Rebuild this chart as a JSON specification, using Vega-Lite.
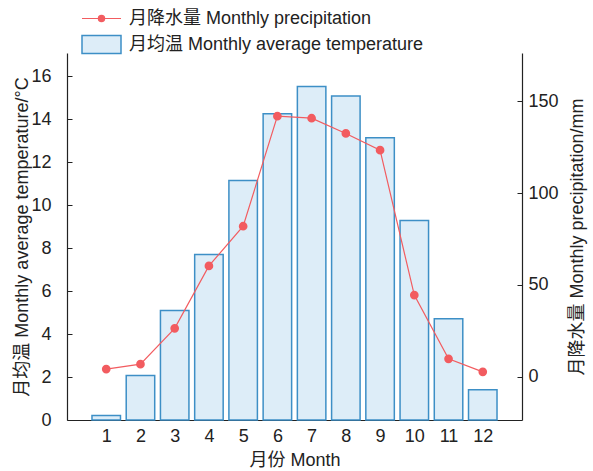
{
  "$schema": "https://vega.github.io/schema/vega-lite/v6.json",
  "autosize": {"type": "none"},
  "padding": {"left": 67, "top": 53, "right": 71, "bottom": 51},
  "width": 455,
  "height": 367,
  "background": "white",
  "config": {
    "view": {"stroke": null},
    "font": "Liberation Sans, Noto Sans CJK SC",
    "axis": {
      "labelFont": "Liberation Sans, Noto Sans CJK SC",
      "titleFont": "Liberation Sans, Noto Sans CJK SC",
      "labelFontSize": 18,
      "titleFontSize": 18,
      "labelColor": "#222222",
      "titleColor": "#222222",
      "titleFontWeight": "normal",
      "domainColor": "#222222",
      "domainWidth": 1.2,
      "tickColor": "#222222",
      "tickWidth": 1,
      "tickSize": -5,
      "grid": false
    },
    "legend": {
      "labelFont": "Liberation Sans, Noto Sans CJK SC",
      "labelFontSize": 18,
      "labelColor": "#222222",
      "labelLimit": 600
    }
  },
  "data": {
    "values": [
      {"month": 1, "temp": 0.21, "precip": 4.2},
      {"month": 2, "temp": 2.07, "precip": 6.9},
      {"month": 3, "temp": 5.1, "precip": 26.4},
      {"month": 4, "temp": 7.7, "precip": 60.4},
      {"month": 5, "temp": 11.15, "precip": 82.0},
      {"month": 6, "temp": 14.25, "precip": 141.9},
      {"month": 7, "temp": 15.52, "precip": 140.8},
      {"month": 8, "temp": 15.08, "precip": 132.5},
      {"month": 9, "temp": 13.13, "precip": 123.4},
      {"month": 10, "temp": 9.29, "precip": 44.5},
      {"month": 11, "temp": 4.71, "precip": 9.8},
      {"month": 12, "temp": 1.41, "precip": 2.7}
    ]
  },
  "encoding": {
    "x": {
      "field": "month",
      "type": "quantitative",
      "scale": {"domain": [0, 13], "nice": false, "zero": false},
      "axis": {
        "values": [1, 2, 3, 4, 5, 6, 7, 8, 9, 10, 11, 12],
        "title": "月份 Month",
        "labelPadding": 12,
        "titlePadding": 6
      }
    }
  },
  "layer": [
    {
      "mark": {"type": "bar", "width": 28.5, "stroke": "#3d8fc6", "strokeWidth": 1.5},
      "encoding": {
        "y": {
          "field": "temp",
          "type": "quantitative",
          "scale": {"domain": [0, 17.08], "nice": false, "zero": true},
          "axis": {
            "orient": "left",
            "values": [0, 2, 4, 6, 8, 10, 12, 14, 16],
            "title": "月均温 Monthly average temperature/°C",
            "labelPadding": 21,
            "titlePadding": -1
          }
        },
        "fill": {
          "datum": "月均温 Monthly average temperature",
          "scale": {"range": ["#ddedf8"]},
          "legend": {
            "title": null,
            "orient": "none",
            "legendX": 14,
            "legendY": -29,
            "symbolType": "M-1,-0.46H1V0.46H-1Z",
            "symbolSize": 1521,
            "symbolStrokeColor": "#3d8fc6",
            "symbolStrokeWidth": 1.5,
            "labelOffset": 7
          }
        }
      }
    },
    {
      "mark": {
        "type": "line",
        "strokeWidth": 1.2,
        "point": {"filled": true, "size": 45, "color": "#f25c60"}
      },
      "encoding": {
        "y": {
          "field": "precip",
          "type": "quantitative",
          "scale": {"domain": [-23.5, 176.3], "nice": false, "zero": false},
          "axis": {
            "orient": "right",
            "values": [0, 50, 100, 150],
            "title": "月降水量 Monthly precipitation/mm",
            "titleAngle": 270,
            "titleBaseline": "top",
            "labelPadding": 11,
            "titlePadding": 10
          }
        },
        "stroke": {
          "datum": "月降水量 Monthly precipitation",
          "scale": {"range": ["#f25c60"]},
          "legend": {
            "title": null,
            "orient": "none",
            "legendX": 14,
            "legendY": -55,
            "symbolType": "M-1,0H1M-0.16,0A0.16,0.16 0 1,1 0.16,0A0.16,0.16 0 1,1 -0.16,0Z",
            "symbolSize": 1521,
            "symbolFillColor": "#f25c60",
            "symbolStrokeWidth": 1.2,
            "labelOffset": 7
          }
        }
      }
    }
  ],
  "resolve": {"scale": {"y": "independent"}}
}
